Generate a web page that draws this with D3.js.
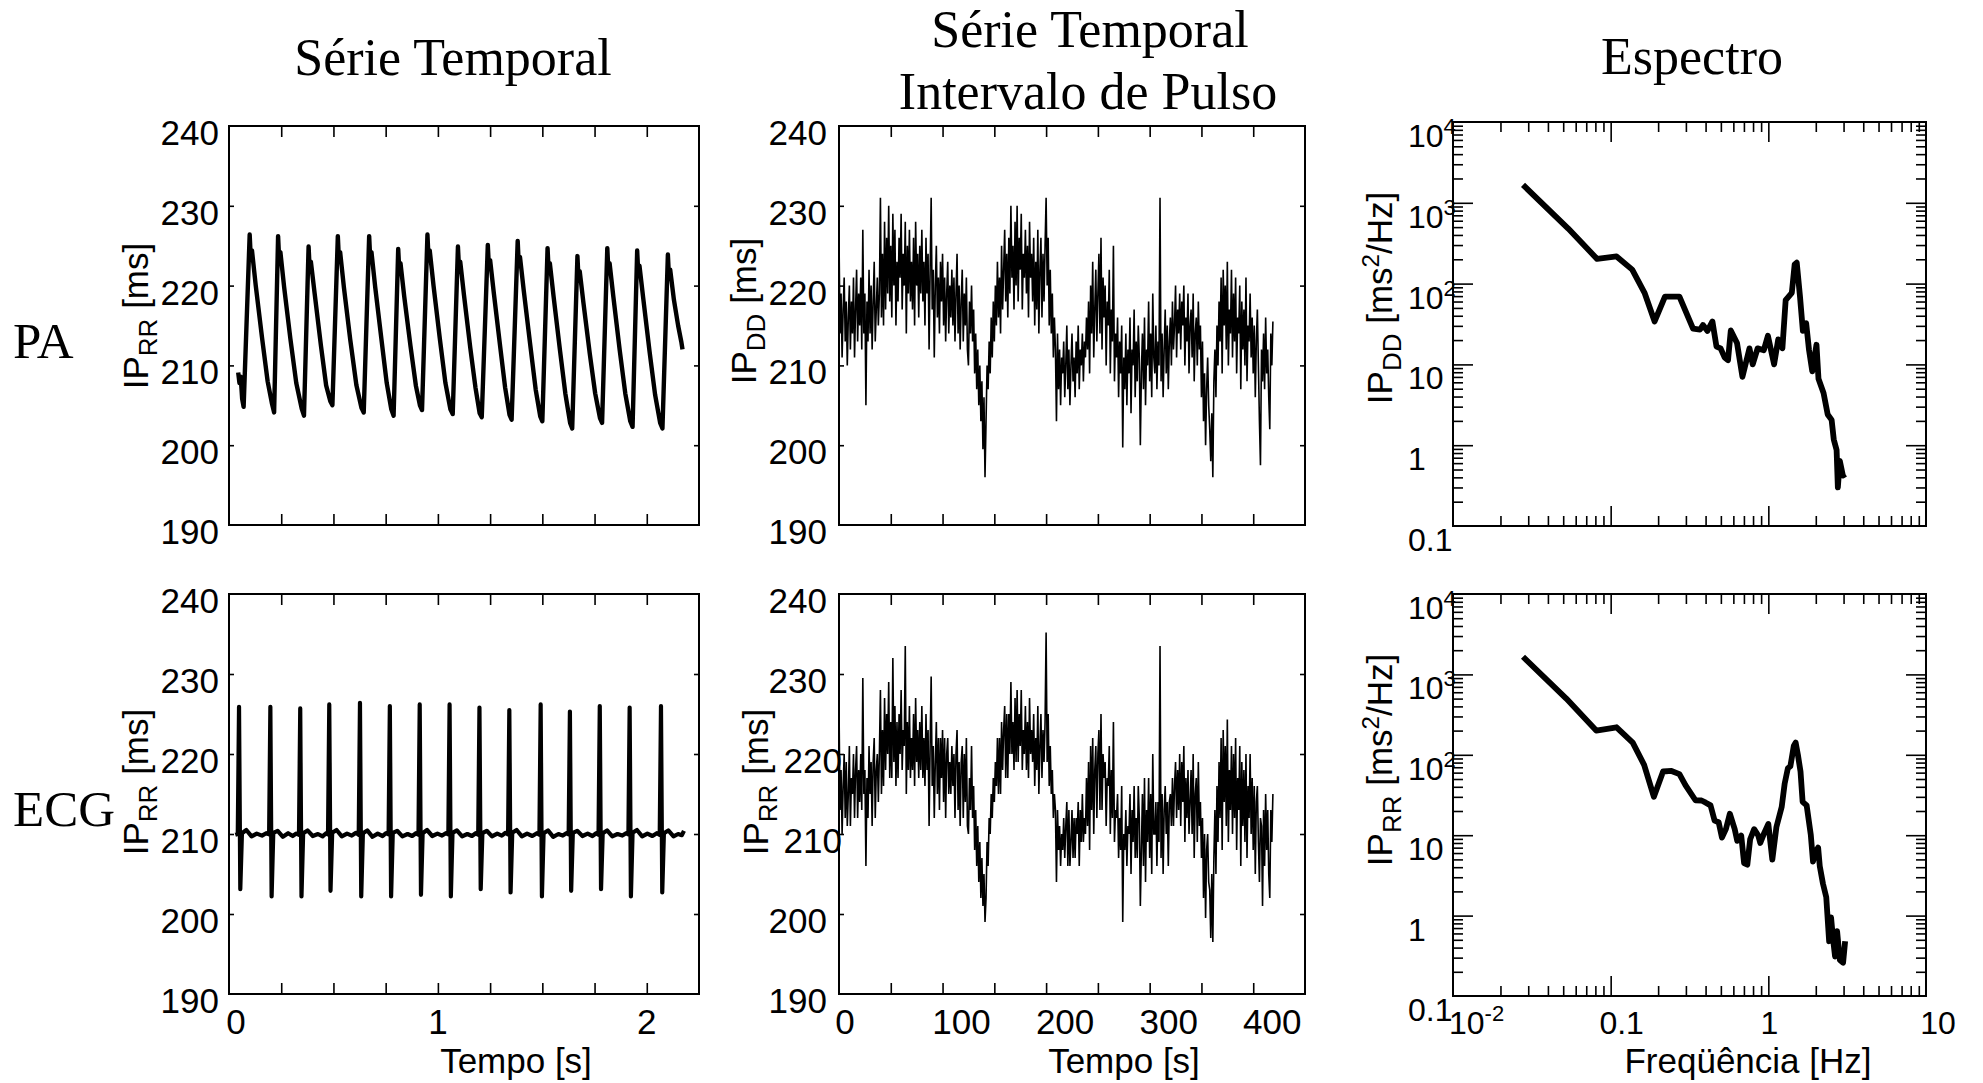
<!DOCTYPE html>
<html><head><meta charset="utf-8">
<script src="https://cdn.jsdelivr.net/npm/d3@7"></script>
<style>html,body{margin:0;padding:0;background:#fff}</style>
</head><body>
<svg id="c" width="1983" height="1083"></svg>
<script>
// ---------------- DATA ----------------
const rowLabels = ["PA", "ECG"];
const colTitles = [["Série Temporal"], ["Série Temporal", "Intervalo de Pulso"], ["Espectro"]];
const linYTicks = [190, 200, 210, 220, 230, 240];
const timeTicks = [0.25, 0.5, 0.75, 1, 1.25, 1.5, 1.75, 2];
const timeLabels = [0, 1, 2];
const hrvTicks = [50, 100, 150, 200, 250, 300, 350, 400];
const hrvLabels = [0, 100, 200, 300, 400];
const logYMajor = [0.1, 1, 10, 100, 1000, 10000];
const logXMajor = [0.01, 0.1, 1, 10];
const minorMult = [2, 3, 4, 5, 6, 7, 8, 9];

// PA pressure waveform (time s, IP ms)
const paTime = [0.044,0.050,0.056,0.063,0.070,
 0.099,0.104,0.110,0.128,0.158,0.185,0.205,0.216,
 0.235,0.240,0.246,0.264,0.294,0.322,0.348,0.359,
 0.381,0.386,0.392,0.410,0.440,0.465,0.485,0.495,
 0.521,0.526,0.532,0.550,0.580,0.610,0.634,0.645,
 0.671,0.676,0.682,0.700,0.730,0.755,0.777,0.788,
 0.810,0.815,0.821,0.839,0.869,0.895,0.914,0.924,
 0.950,0.955,0.961,0.979,1.009,1.036,1.060,1.071,
 1.096,1.101,1.107,1.125,1.155,1.180,1.200,1.210,
 1.239,1.244,1.250,1.268,1.298,1.322,1.343,1.353,
 1.382,1.387,1.393,1.411,1.441,1.468,1.490,1.500,
 1.525,1.530,1.536,1.554,1.584,1.610,1.633,1.643,
 1.668,1.673,1.679,1.697,1.727,1.753,1.776,1.786,
 1.811,1.816,1.822,1.840,1.870,1.897,1.921,1.932,
 1.954,1.959,1.965,1.983,2.013,2.040,2.064,2.075,
 2.101,2.106,2.112,2.130,2.150,2.165,2.171];
const paValue = [209.1,207.8,208.6,205.8,204.8,
 226.4,223.6,224.4,220.0,213.5,208.0,205.3,204.1,
 226.2,223.4,224.2,219.8,213.3,207.8,204.6,203.7,
 224.9,222.2,223.0,219.0,212.5,207.5,205.5,205.0,
 226.2,223.4,224.2,219.8,213.3,207.5,204.7,204.1,
 226.2,223.4,224.2,219.8,213.2,207.8,204.5,203.7,
 224.6,222.0,222.8,218.6,212.4,207.4,205.0,204.4,
 226.4,223.6,224.4,220.0,213.4,207.8,204.5,203.9,
 224.9,222.2,223.0,218.8,212.2,207.2,204.0,203.5,
 225.1,222.4,223.2,219.0,212.4,207.2,203.8,203.2,
 225.6,222.8,223.6,219.4,212.8,207.0,203.6,203.0,
 224.7,222.0,222.8,218.6,212.0,206.5,202.8,202.1,
 223.7,221.0,221.8,217.8,211.5,206.5,203.4,202.8,
 224.7,222.0,222.8,218.6,212.0,206.5,203.0,202.3,
 224.4,221.7,222.5,218.4,211.8,206.3,202.8,202.1,
 223.9,221.2,222.0,218.2,215.0,213.0,212.0];

// ECG waveform (time s, IP ms)
const ecgTime = [0.030,0.042,0.048,0.054,0.062,0.083,0.108,0.133,0.158,0.178,0.192,
 0.198,0.204,0.212,0.233,0.258,0.283,0.305,0.322,0.335,
 0.341,0.347,0.355,0.376,0.401,0.426,0.448,0.465,0.474,
 0.480,0.486,0.494,0.515,0.540,0.565,0.588,0.608,0.621,
 0.627,0.633,0.641,0.662,0.687,0.712,0.735,0.752,0.764,
 0.770,0.776,0.784,0.805,0.830,0.855,0.877,0.895,0.907,
 0.913,0.919,0.927,0.948,0.973,0.998,1.020,1.038,1.050,
 1.056,1.062,1.070,1.091,1.116,1.141,1.163,1.181,1.193,
 1.199,1.205,1.213,1.234,1.259,1.284,1.306,1.324,1.336,
 1.342,1.348,1.356,1.377,1.402,1.427,1.452,1.474,1.486,
 1.492,1.498,1.506,1.527,1.552,1.577,1.598,1.615,1.626,
 1.632,1.638,1.646,1.667,1.692,1.717,1.740,1.758,1.769,
 1.775,1.781,1.789,1.810,1.835,1.860,1.883,1.901,1.912,
 1.918,1.924,1.932,1.953,1.978,2.003,2.027,2.048,2.062,
 2.068,2.074,2.082,2.103,2.128,2.150,2.168,2.178];
const ecgValue = [209.9,210.0,225.9,203.1,210.1,210.5,209.7,210.05,209.8,210.1,209.95,
 225.9,202.2,210.15,210.4,209.65,210.1,209.75,210.05,209.9,
 225.7,202.2,210.1,210.45,209.75,210.0,209.7,210.1,209.95,
 226.2,202.9,210.15,210.5,209.7,210.05,209.8,210.15,209.9,
 226.4,202.2,210.1,210.45,209.65,210.05,209.75,210.1,209.95,
 226.0,202.2,210.15,210.4,209.7,210.0,209.75,210.1,209.9,
 226.2,202.4,210.1,210.5,209.75,210.05,209.8,210.1,209.95,
 226.2,202.2,210.15,210.45,209.7,210.0,209.75,210.1,209.9,
 225.8,203.1,210.1,210.4,209.7,210.05,209.8,210.15,209.95,
 225.5,202.7,210.15,210.5,209.7,210.05,209.75,210.1,209.9,
 226.2,202.2,210.1,210.45,209.65,210.0,209.8,210.1,209.95,
 225.3,202.9,210.15,210.4,209.75,210.05,209.75,210.1,209.9,
 226.0,203.1,210.1,210.45,209.7,210.0,209.8,210.1,209.95,
 225.8,202.2,210.15,210.5,209.7,210.05,209.75,210.1,209.9,
 226.0,202.7,210.1,210.45,209.7,210.0,209.85,210.4];

// Pulse interval series, one sample per second from t = 0 s
const hrvDt = 1;
const hrvDD = [
226,214,219,211,217,221,213,218,210,216,
220,212,218,214,221,211,217,222,213,219,
215,221,212,227,214,219,205,218,213,222,
214,220,212,218,223,213,217,221,215,219,
231,216,224,215,228,217,226,219,230,218,
225,216,229,220,227,215,223,218,226,221,
229,217,224,220,228,214,225,219,227,218,
223,217,226,215,228,220,224,216,225,219,
227,218,223,215,226,219,224,212,222,231,
217,222,211,220,225,216,221,214,223,218,
224,215,221,213,219,223,214,220,216,222,
215,221,213,219,224,214,220,212,218,222,
213,219,215,221,212,210,218,214,220,213,
217,209,214,207,212,205,210,203,208,199.5,
206,196,203,210,207,213,209,216,211,218,
213,220,215,223,216,221,214,225,217,222,
227,218,224,216,226,219,230,221,225,217,
228,220,230,218,226,222,229,217,224,221,
227,219,225,216,228,221,224,218,226,215,
223,217,227,214,222,226,216,224,218,225,
231,220,226,215,222,214,219,211,216,212,
203,214,207,212,205,211,209,213,206,210,
215,207,212,205,210,214,208,211,206,213,
209,215,207,212,210,214,208,213,211,216,
212,218,209,220,214,223,211,217,222,213,
219,224,214,226,212,221,216,220,210,218,
215,222,209,217,213,225,208,214,211,216,
206,213,209,215,199.7,211,207,214,205,212,
209,216,204,212,210,217,206,213,208,215,
211,200,209,214,207,216,205,212,210,218,
208,214,206,219,211,209,215,207,213,210,
231,208,214,206,212,217,209,215,207,213,
216,210,218,212,215,220,211,217,214,219,
212,218,215,220,210,216,213,219,209,215,
217,211,219,208,214,216,210,218,212,215,
206,213,203,209,200,207,211,205,202,198,
204,196,208,212,206,215,210,218,213,221,
209,222,215,220,212,223,210,217,214,222,
211,219,213,221,209,216,214,220,207,218,
212,217,210,221,208,215,213,219,211,216,
209,215,206,213,217,210,203,197.5,212,208,
214,207,216,209,212,206,202,214,210,215.5];
const hrvRR = [
226,213,218,210,216,220,212,219,211,215,
221,211,217,215,220,212,218,221,212,218,
214,220,213,229.5,215,218,206,217,212,221,
215,219,211,219,222,212,218,220,214,220,
228,215,223,216,227,218,225,220,229,217,
224,217,232,219,226,216,224,217,225,220,
228,218,223,221,233.5,215,224,218,226,217,
222,218,225,216,227,219,223,217,224,218,
226,217,222,216,225,218,223,211,221,229.7,
216,221,212,219,224,215,222,213,222,217,
223,214,222,212,220,222,215,219,215,221,
216,220,212,220,223,213,219,211,219,221,
212,220,214,222,211,210,217,213,221,212,
216,208,213,206,211,204,209,202,207,201,
205,199,202,209,206,212,210,215,212,217,
214,219,216,222,215,222,215,224,218,223,
226,217,225,217,225,220,229,220,224,218,
227,219,228,219,225,221,228,218,223,220,
226,218,224,217,227,220,223,219,225,216,
222,218,226,215,221,225,217,223,219,224,
235.2,219,225,216,221,215,218,212,215,213,
204,213,208,211,206,210,208,212,207,211,
214,206,213,206,209,213,207,212,207,212,
210,214,206,213,209,215,209,212,210,217,
211,219,208,221,213,222,210,218,221,212,
220,223,213,225,213,220,217,219,211,217,
216,221,210,218,212,224,209,213,212,215,
207,212,208,216,199,210,208,213,206,211,
210,215,205,213,209,216,207,212,207,216,
212,201,208,215,206,217,204,213,209,217,
207,215,205,220,210,210,214,206,214,209,
233.5,207,215,205,213,216,210,214,206,214,
215,211,217,211,216,219,212,218,213,220,
211,219,214,221,209,217,212,218,210,214,
218,210,220,207,215,217,209,219,211,214,
207,212,202,210,199.5,208,210,204,203,197,
205,196.5,207,213,205,216,209,219,212,222,
208,223,214,221,211,224.3,209,218,213,221,
210,220,212,222,208,217,213,221,206,219,
211,218,209,220,207,216,212,220,210,217,
208,216,205,214,216,209,204,212,211,201,
213,206,215,208,213,205,202,213,209,215];

// Spectra (frequency Hz, power ms^2/Hz)
const specDDFreq = [0.0278,0.0538,0.082,0.109,0.137,0.164,0.190,0.221,0.273,0.333,0.369,0.385,0.411,0.442,0.469,0.498,0.528,0.555,0.578,0.633,0.685,0.759,0.796,0.855,0.936,0.994,1.088,1.155,1.228,1.288,1.409,1.469,1.514,1.588,1.656,1.738,1.812,1.900,2.02,2.08,2.24,2.38,2.52,2.60,2.71,2.76,2.84,2.97,3.08];
const specDDPow = [1663,480,202,217,149,77,34,69,69,27.7,27,30.7,26,34,16.6,15.8,12.2,11.3,26.3,18.4,7.0,15.8,10,15.8,15,22.6,10,20.4,15.8,62.5,77,173,182,69,26,32.3,15,8.2,17.5,6.65,4.43,2.40,2.06,1.18,0.87,0.30,0.64,0.42,0.44];
const specRRFreq = [0.0278,0.0523,0.081,0.109,0.138,0.163,0.188,0.215,0.243,0.273,0.298,0.345,0.377,0.401,0.430,0.456,0.484,0.508,0.538,0.570,0.612,0.635,0.673,0.702,0.736,0.767,0.813,0.863,0.889,0.942,1.0,1.06,1.125,1.215,1.27,1.33,1.38,1.45,1.49,1.54,1.60,1.65,1.75,1.86,1.92,2.0,2.07,2.12,2.22,2.33,2.43,2.50,2.57,2.65,2.73,2.84,2.98,3.07];
const specRRPow = [1656,500,200,220,142,75,30,62,63,57.5,42,27.2,27,25.4,23.5,15.2,14.5,9.33,11.9,18.5,11.9,8.5,9.9,4.5,4.3,8.9,11.9,9.9,8.0,10.7,13.8,4.97,12.6,22.4,44,68,72,129,142,100,62,26,23.5,10,4.7,6.3,7,4.1,2.5,1.7,0.48,0.95,0.52,0.31,0.64,0.28,0.26,0.48];

// ---------------- LAYOUT ----------------
const SANS = "'Liberation Sans', Arial, Helvetica, sans-serif";
const SERIF = "'Liberation Serif', 'Times New Roman', serif";
const svg = d3.select("#c");
svg.append("rect").attr("width", 1983).attr("height", 1083).attr("fill", "#fff");

const P = {
  tl: {x0: 229, x1: 699, y0: 126, y1: 525},
  tm: {x0: 839, x1: 1305, y0: 126, y1: 525},
  tr: {x0: 1453, x1: 1926, y0: 122, y1: 526},
  bl: {x0: 229, x1: 699, y0: 594, y1: 994},
  bm: {x0: 839, x1: 1305, y0: 594, y1: 994},
  br: {x0: 1453, x1: 1926, y0: 594, y1: 996}
};
const TICKLAB_Y = 1034, XTITLE_Y = 1073;

function frame(p) {
  svg.append("rect").attr("x", p.x0).attr("y", p.y0)
    .attr("width", p.x1 - p.x0).attr("height", p.y1 - p.y0)
    .attr("fill", "none").attr("stroke", "#000").attr("stroke-width", 2);
}
function tickSet(p, xs, ys, xv, yv, xlen, ylen) {
  const mk = (axis, tr) => {
    const g = svg.append("g").attr("transform", tr).call(axis);
    g.select(".domain").remove();
    g.selectAll("text").remove();
    g.selectAll("line").attr("stroke", "#000").attr("stroke-width", 1.6);
  };
  if (xv) {
    mk(d3.axisBottom(xs).tickValues(xv).tickSizeInner(-xlen).tickSizeOuter(0), `translate(0,${p.y1})`);
    mk(d3.axisTop(xs).tickValues(xv).tickSizeInner(-xlen).tickSizeOuter(0), `translate(0,${p.y0})`);
  }
  if (yv) {
    mk(d3.axisLeft(ys).tickValues(yv).tickSizeInner(-ylen).tickSizeOuter(0), `translate(${p.x0},0)`);
    mk(d3.axisRight(ys).tickValues(yv).tickSizeInner(-ylen).tickSizeOuter(0), `translate(${p.x1},0)`);
  }
}
function txt(x, y, s, opt = {}) {
  return svg.append("text").attr("x", x).attr("y", y)
    .attr("font-family", opt.family || SANS).attr("font-size", opt.size || 35)
    .attr("text-anchor", opt.anchor || "middle").attr("fill", "#000").text(s);
}
function yTitle(x, y, sub, sup) {
  const t = svg.append("text").attr("transform", `translate(${x},${y}) rotate(-90)`)
    .attr("font-family", SANS).attr("font-size", 35).attr("text-anchor", "middle").attr("fill", "#000");
  t.append("tspan").text("IP");
  t.append("tspan").attr("font-size", 26).attr("dy", 9).text(sub);
  if (sup) {
    t.append("tspan").attr("dy", -9).text(" [ms");
    t.append("tspan").attr("font-size", 24).attr("dy", -13).text("2");
    t.append("tspan").attr("dy", 13).text("/Hz]");
  } else {
    t.append("tspan").attr("dy", -9).text(" [ms]");
  }
}

// ---- linear time panels ----
function linY(p) { return d3.scaleLinear().domain([190, 240]).range([p.y1, p.y0]); }
function yLabels(p, ys, gap, shifts) {
  linYTicks.forEach(v => {
    const dx = (shifts && shifts[v]) || 0;
    txt(p.x0 - gap + dx, ys(v) + 19, String(v), {anchor: "end"});
  });
}

// top-left PA
{
  const p = P.tl, xs = d3.scaleLinear().domain([0, 2.25]).range([p.x0, p.x1]), ys = linY(p);
  tickSet(p, xs, ys, timeTicks, linYTicks.slice(1, -1), 11, 5);
  svg.append("path").datum(d3.range(paTime.length))
    .attr("d", d3.line().x(i => xs(paTime[i])).y(i => ys(paValue[i])))
    .attr("fill", "none").attr("stroke", "#000").attr("stroke-width", 4.4).attr("stroke-linejoin", "round");
  frame(p);
  yLabels(p, ys, 10);
  yTitle(148, 316, "RR", false);
}
// bottom-left ECG
{
  const p = P.bl, xs = d3.scaleLinear().domain([0, 2.25]).range([p.x0, p.x1]), ys = linY(p);
  tickSet(p, xs, ys, timeTicks, linYTicks.slice(1, -1), 11, 5);
  svg.append("path").datum(d3.range(ecgTime.length))
    .attr("d", d3.line().x(i => xs(ecgTime[i])).y(i => ys(ecgValue[i])))
    .attr("fill", "none").attr("stroke", "#000").attr("stroke-width", 4.2).attr("stroke-linejoin", "round");
  frame(p);
  yLabels(p, ys, 10);
  timeLabels.forEach(v => txt(xs(v) + (v === 0 ? 7 : 0), TICKLAB_Y, String(v)));
  txt(516, XTITLE_Y, "Tempo [s]");
  yTitle(148, 782, "RR", false);
}
// middle panels
function hrvPanel(p, data, sub, titleX, titleY, bottom, shifts) {
  const xs = d3.scaleLinear().domain([0, 450]).range([p.x0, p.x1]), ys = linY(p);
  tickSet(p, xs, ys, hrvTicks, linYTicks.slice(1, -1), 11, 5);
  svg.append("path").datum(data)
    .attr("d", d3.line().x((d, i) => xs(i * hrvDt)).y(d => ys(d)))
    .attr("fill", "none").attr("stroke", "#000").attr("stroke-width", 1.6);
  frame(p);
  yLabels(p, ys, 12, shifts);
  if (bottom) {
    hrvLabels.forEach(v => txt(xs(v) + (v === 0 ? 6 : 19), TICKLAB_Y, String(v)));
    txt(1124, XTITLE_Y, "Tempo [s]");
  }
  yTitle(titleX, titleY, sub, false);
}
hrvPanel(P.tm, hrvDD, "DD", 756, 311, false);
hrvPanel(P.bm, hrvRR, "RR", 768, 782, true, {220: 15, 210: 15});

// spectra
function specPanel(p, fr, pw, sub, titleY, bottom) {
  const xs = d3.scaleLog().domain([0.01, 10]).range([p.x0, p.x1]);
  const ys = d3.scaleLog().domain([0.1, 10000]).range([p.y1, p.y0]);
  const xMinor = [], yMinor = [];
  logXMajor.slice(0, -1).forEach(b => minorMult.forEach(m => xMinor.push(b * m)));
  logYMajor.slice(0, -1).forEach(b => minorMult.forEach(m => yMinor.push(b * m)));
  tickSet(p, xs, ys, xMinor, yMinor, 10, 10);
  tickSet(p, xs, ys, logXMajor.slice(1, -1), logYMajor.slice(1, -1), 20, 20);
  svg.append("path").datum(d3.range(fr.length))
    .attr("d", d3.line().x(i => xs(fr[i])).y(i => ys(pw[i])))
    .attr("fill", "none").attr("stroke", "#000").attr("stroke-width", 5.8)
    .attr("stroke-linejoin", "round").attr("stroke-linecap", "butt");
  frame(p);
  logYMajor.forEach(v => {
    const y = ys(v) + 25;
    if (v >= 100) {
      const t = txt(p.x0 - 45, y, "", {anchor: "start", size: 32});
      t.append("tspan").text("10");
      t.append("tspan").attr("font-size", 22).attr("dy", -13).text(String(Math.round(Math.log10(v))));
    } else {
      txt(p.x0 - 45, y, String(v), {anchor: "start", size: 32});
    }
  });
  yTitle(1392, titleY, sub, true);
  if (bottom) {
    const t = txt(p.x0 - 4, TICKLAB_Y, "", {anchor: "start", size: 32});
    t.append("tspan").text("10");
    t.append("tspan").attr("font-size", 22).attr("dy", -13).text("-2");
    txt(xs(0.1) + 11, TICKLAB_Y, "0.1", {size: 32});
    txt(xs(1) + 1, TICKLAB_Y, "1", {size: 32});
    txt(xs(10) + 12, TICKLAB_Y, "10", {size: 32});
    txt(1748, XTITLE_Y, "Freqüência [Hz]");
  }
}
specPanel(P.tr, specDDFreq, specDDPow, "DD", 298, false);
specPanel(P.br, specRRFreq, specRRPow, "RR", 760, true);

// titles
txt(453, 75, colTitles[0][0], {family: SERIF, size: 52});
txt(1090, 47, colTitles[1][0], {family: SERIF, size: 52});
txt(1088, 109, colTitles[1][1], {family: SERIF, size: 52});
txt(1692, 74, colTitles[2][0], {family: SERIF, size: 52});
txt(13, 358, rowLabels[0], {family: SERIF, size: 51, anchor: "start"});
txt(13, 826, rowLabels[1], {family: SERIF, size: 51, anchor: "start"});
</script>
</body></html>
